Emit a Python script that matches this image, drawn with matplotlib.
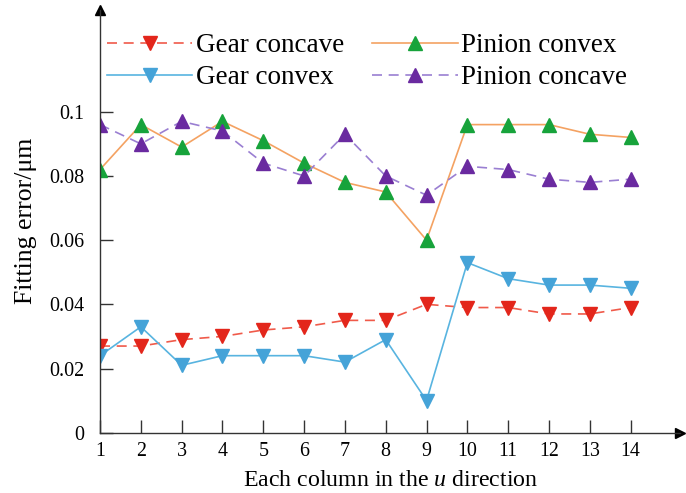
import numpy as np
import matplotlib
matplotlib.use('Agg')
import matplotlib.pyplot as plt

plt.rcParams['font.family'] = ['Liberation Serif', 'DejaVu Serif']
plt.rcParams['mathtext.fontset'] = 'custom'
plt.rcParams['mathtext.rm'] = 'Liberation Serif'
plt.rcParams['mathtext.it'] = 'Liberation Serif:italic'

columns = np.arange(1, 15)
gear_concave = [0.027, 0.027, 0.029, 0.030, 0.032, 0.033, 0.035, 0.035, 0.040, 0.039, 0.039, 0.037, 0.037, 0.039]
gear_convex = [0.024, 0.033, 0.021, 0.024, 0.024, 0.024, 0.022, 0.029, 0.010, 0.053, 0.048, 0.046, 0.046, 0.045]
pinion_convex = [0.082, 0.096, 0.089, 0.097, 0.091, 0.084, 0.078, 0.075, 0.060, 0.096, 0.096, 0.096, 0.093, 0.092]
pinion_concave = [0.096, 0.090, 0.097, 0.094, 0.084, 0.080, 0.093, 0.080, 0.074, 0.083, 0.082, 0.079, 0.078, 0.079]
yticks = [0, 0.02, 0.04, 0.06, 0.08, 0.1]
ytick_labels = ['0', '0.02', '0.04', '0.06', '0.08', '0.1']

fig = plt.figure(figsize=(6.86, 4.93), dpi=100)
ax = fig.add_axes([0.1458, 0.1223, 0.846, 0.858])

ms = 10
ax.plot(columns, gear_concave, color='#f05a4a', ls=(0, (6, 4)), lw=1.2,
        marker='v', ms=ms, mfc='#e3261b', mec='#e3261b', label='Gear concave')
ax.plot(columns, gear_convex, color='#58b4e0', ls='-', lw=1.2,
        marker='v', ms=ms, mfc='#45a3d8', mec='#45a3d8', label='Gear convex')
ax.plot(columns, pinion_convex, color='#f4a262', ls='-', lw=1.2,
        marker='^', ms=ms, mfc='#17a33b', mec='#17a33b', label='Pinion convex')
ax.plot(columns, pinion_concave, color='#9a7fd2', ls=(0, (6, 4)), lw=1.2,
        marker='^', ms=ms, mfc='#6a2aa0', mec='#6a2aa0', label='Pinion concave')

ax.set_xlim(1, 15.22)
ax.set_ylim(0, 0.1318)
ax.set_xticks(columns)
ax.set_yticks(yticks)
ax.set_yticklabels(ytick_labels)

for s in ['top', 'right']:
    ax.spines[s].set_visible(False)
for s in ['left', 'bottom']:
    ax.spines[s].set_linewidth(1.0)
    ax.spines[s].set_color('#333333')
ax.tick_params(direction='in', length=9.5, width=1.0, color='#333333',
               labelsize=14.4)
ax.tick_params(axis='x', pad=7)
ax.tick_params(axis='y', pad=11)

ax.plot(1, 0, '>', color='black', ms=7, transform=ax.transAxes, clip_on=False)
ax.plot(0, 1, '^', color='black', ms=7, transform=ax.transAxes, clip_on=False)

ax.set_xlabel('Each column in the $u$ direction', fontsize=17.2, labelpad=6.5)
ax.set_ylabel('Fitting error/\u03bcm', fontsize=18.5, labelpad=9)

ax.legend(ncol=2, loc='upper left', bbox_to_anchor=(0.012, 0.944), frameon=False,
          fontsize=19.5, handlelength=3.15, handletextpad=0.12, columnspacing=1.05,
          labelspacing=0.25, borderaxespad=0, borderpad=0, markerscale=1.0)

fig.savefig('out.png', dpi=100)
